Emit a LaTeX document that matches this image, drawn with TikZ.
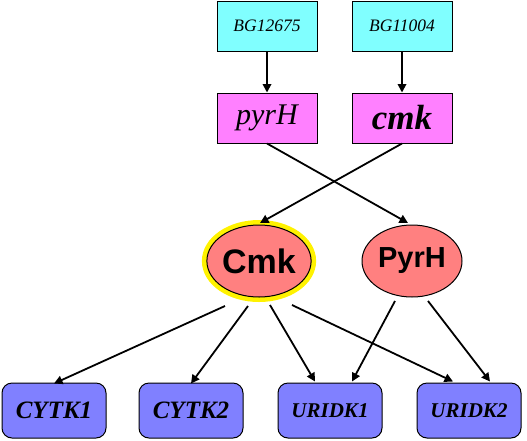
\documentclass[tikz,border=0pt]{standalone}
\usepackage{fontspec}
\setmainfont{Liberation Serif}
\newfontfamily\arialfont{Liberation Sans}
\usetikzlibrary{shapes.geometric,arrows.meta}
\definecolor{cyanbox}{HTML}{80FFFF}
\definecolor{magbox}{HTML}{FF80FF}
\definecolor{salmon}{HTML}{FF8080}
\definecolor{bluebox}{HTML}{8080FF}
\begin{document}
\begin{tikzpicture}[x=1pt,y=-1pt,
  genebox/.style={draw=black,line width=1pt,fill=cyanbox,minimum width=100pt,minimum height=50pt,inner sep=0pt,font=\fontsize{17.5}{20}\selectfont\itshape},
  namebox/.style={draw=black,line width=1pt,fill=magbox,minimum width=100pt,minimum height=50pt,inner sep=0pt},
  prot/.style={ellipse,draw=black,line width=1pt,fill=salmon,minimum width=100pt,minimum height=72pt,inner sep=0pt,font=\arialfont\bfseries},
  react/.style={draw=black,line width=1pt,fill=bluebox,rounded corners=10pt,minimum width=104pt,minimum height=55pt,inner sep=0pt,font=\bfseries\itshape},
  edge/.style={line width=1.8pt,-{Triangle[length=8.5pt,width=8.5pt]}}]
\useasboundingbox (0,0) rectangle (527,440);
\node[genebox] (bg1) at (267,26) {BG12675};
\node[genebox] (bg2) at (402,26) {BG11004};
\node[namebox,font=\fontsize{30}{34}\selectfont\itshape] (pyrH) at (267,118) {pyrH};
\node[namebox,font=\fontsize{35}{38}\selectfont\bfseries\itshape] (cmk) at (402,118) {cmk};
\node[prot,preaction={draw=yellow,line width=10pt},font=\arialfont\bfseries\fontsize{34}{38}\selectfont] (Cmk) at (259,261) {Cmk};
\node[prot,font=\arialfont\bfseries\fontsize{29}{32}\selectfont] (PyrH) at (412,261) {PyrH};
\node[react,font=\fontsize{25}{28}\selectfont\bfseries\itshape] (CYTK1) at (54,410.5) {CYTK1};
\node[react,font=\fontsize{25}{28}\selectfont\bfseries\itshape] (CYTK2) at (191,410.5) {CYTK2};
\node[react,font=\fontsize{21}{24}\selectfont\bfseries\itshape] (URIDK1) at (330,410.5) {URIDK1};
\node[react,font=\fontsize{21}{24}\selectfont\bfseries\itshape] (URIDK2) at (469,410.5) {URIDK2};
\draw[edge] (bg1.south) -- (pyrH.north);
\draw[edge] (bg2.south) -- (cmk.north);
\draw[edge] (pyrH.south) -- ([shift={(-4,-38)}]PyrH.center);
\draw[edge] (cmk.south) -- ([shift={(1,-38)}]Cmk.center);
\draw[edge] ([shift={(-34,45)}]Cmk.center) -- ([yshift=-1]CYTK1.north);
\draw[edge] ([shift={(-11,45)}]Cmk.center) -- ([yshift=-1]CYTK2.north);
\draw[edge] ([shift={(11,44)}]Cmk.center) -- ([shift={(-15,-1)}]URIDK1.north);
\draw[edge] ([shift={(33,44)}]Cmk.center) -- ([shift={(-16,-1)}]URIDK2.north);
\draw[edge] ([shift={(-17,40)}]PyrH.center) -- ([shift={(22,-1)}]URIDK1.north);
\draw[edge] ([shift={(16,40)}]PyrH.center) -- ([shift={(21,-1)}]URIDK2.north);
\end{tikzpicture}
\end{document}
